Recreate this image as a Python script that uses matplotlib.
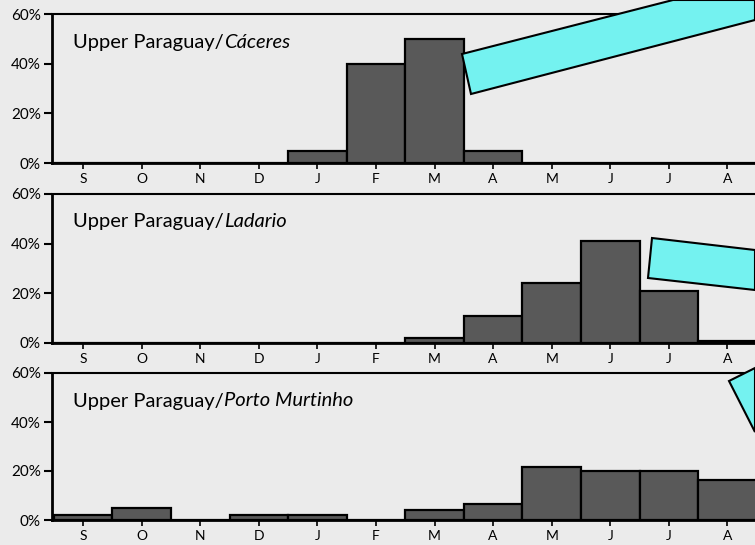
import numpy as np
import matplotlib.pyplot as plt
from matplotlib.patches import Polygon

months = ["S", "O", "N", "D", "J", "F", "M", "A", "M", "J", "J", "A"]
stations = ["Cáceres", "Ladario", "Porto Murtinho"]
caceres = [0, 0, 0, 0, 5, 40, 50, 5, 0, 0, 0, 0]
ladario = [0, 0, 0, 0, 0, 0, 2, 11, 24, 41, 21, 1]
porto_murtinho = [2, 5, 0, 2, 2, 0, 4, 6.5, 21.5, 20, 20, 16.5]
series = [caceres, ladario, porto_murtinho]

W, H = 755, 545
bg = "#ebebeb"
plt.rcParams["font.family"] = ["Lato", "DejaVu Sans"]

fig = plt.figure(figsize=(W / 100, H / 100), dpi=100, facecolor=bg)

# pixel rows of (60% line, 0% line) for each panel
rows = [(14, 163), (194, 343), (373, 520)]
x_left = 52
x = np.arange(len(months))

for (top, zero), name, vals in zip(rows, stations, series):
    ax = fig.add_axes([x_left / W, 1 - zero / H, (W - x_left) / W, (zero - top) / H])
    ax.set_facecolor(bg)
    ax.bar(x, vals, width=1.0, color="#595959", edgecolor="black", linewidth=1.6)
    ax.set_xlim(-0.53, 11.47)
    ax.set_ylim(0, 60)
    ax.set_yticks([0, 20, 40, 60])
    ax.set_yticklabels(["0%", "20%", "40%", "60%"], fontsize=11)
    ax.set_xticks(x)
    ax.set_xticklabels(months, fontsize=10)
    ax.tick_params(axis="y", length=6, width=1.5, pad=2)
    ax.tick_params(axis="x", length=4, width=1.2, pad=3)
    for s in ["left", "bottom"]:
        ax.spines[s].set_linewidth(2)
    ax.spines["top"].set_linewidth(1.5)
    ax.spines["right"].set_visible(False)
    t = ax.text(21 / (W - x_left), 1 - 28 / (zero - top), "Upper Paraguay/",
                transform=ax.transAxes, fontsize=14.5, va="center", ha="left")
    ax.annotate(name, xycoords=t, xy=(1, 0), va="bottom", ha="left",
                fontsize=14.5, style="italic")

# cyan overlay pointers (pixel coords)
shapes = [
    [(462, 54), (673, 0), (755, 0), (755, 20), (471, 94)],
    [(652, 238), (755, 250), (755, 290), (648, 278)],
    [(729, 381), (755, 368), (755, 432)],
]
for pts in shapes:
    poly = Polygon([(px / W, 1 - py / H) for px, py in pts], closed=True,
                   transform=fig.transFigure, facecolor="#74f2f0",
                   edgecolor="black", linewidth=1.5, zorder=10)
    fig.patches.append(poly)

fig.savefig("out.png", dpi=100, facecolor=bg)
